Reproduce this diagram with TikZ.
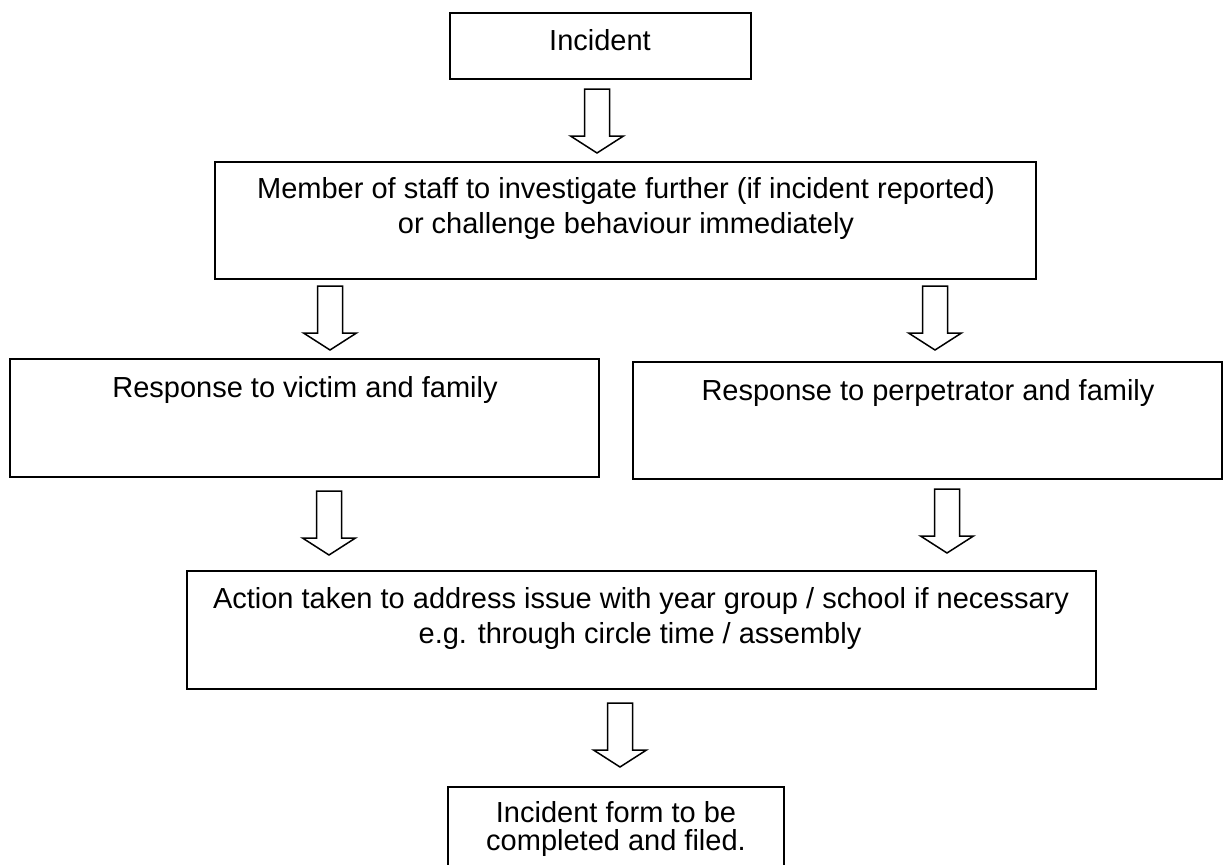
\documentclass[tikz,border=0pt]{standalone}
\usepackage{fontspec}
\setmainfont{Liberation Sans}
\begin{document}
\begin{tikzpicture}[x=1pt,y=-1pt,
  box/.style={draw=black,line width=1.7pt,fill=none,inner sep=0pt},
  txt/.style={anchor=base,inner sep=0pt,font=\fontsize{29}{35}\selectfont},
  blockarr/.pic={\draw[line width=1.5pt,line join=miter]
    (-12.5,0) -- (-12.5,47) -- (-26.5,47) -- (0,64) -- (26.5,47) -- (12.5,47) -- (12.5,0) -- cycle;}]
\clip (0,0) rectangle (1224,865);
\fill[white] (0,0) rectangle (1224,865);

% boxes
\node[box,minimum width=301pt,minimum height=66pt] (A) at (600.5,46) {};
\node[box,minimum width=821pt,minimum height=117pt] (B) at (625.5,220.5) {};
\node[box,minimum width=589pt,minimum height=118pt] (C) at (304.5,418) {};
\node[box,minimum width=589pt,minimum height=117pt] (D) at (927.5,420.5) {};
\node[box,minimum width=909pt,minimum height=118pt] (E) at (641.5,630) {};
\node[box,minimum width=336pt,minimum height=120pt] (F) at (616,847) {};

% texts
\node[txt] (At) at (600,50) {Incident};
\node[txt] (Bt1) at (626,198) {Member of staff to investigate further (if incident reported)};
\node[txt] (Bt2) at (626,233) {or challenge behaviour immediately};
\node[txt] (Ct) at (305,397) {Response to victim and family};
\node[txt] (Dt) at (928,400) {Response to perpetrator and family};
\node[txt] (Et1) at (641,608) {Action taken to address issue with year group / school if necessary};
\node[txt] (Et2) at (640,643) {e.g. through circle time / assembly};
\node[txt] (Ft1) at (616,822) {Incident form to be};
\node[txt] (Ft2) at (616,850) {completed and filed.};

% block arrows
\pic at (597,89) {blockarr};
\pic at (330,286) {blockarr};
\pic at (935,286) {blockarr};
\pic at (329,491) {blockarr};
\pic at (947,489) {blockarr};
\pic at (620,703) {blockarr};
\end{tikzpicture}
\end{document}
